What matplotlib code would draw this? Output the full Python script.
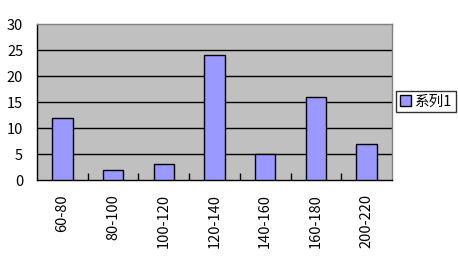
import matplotlib
matplotlib.use("Agg")
import matplotlib.pyplot as plt
from matplotlib.patches import Patch

plt.rcParams['font.family'] = ['Noto Sans CJK SC', 'DejaVu Sans']

categories = ["60-80", "80-100", "100-120", "120-140", "140-160", "160-180", "200-220"]
values = [12, 2, 3, 24, 5, 16, 7]
series_name = "系列1"
yticks = [0, 5, 10, 15, 20, 25, 30]

fig = plt.figure(figsize=(4.58, 2.57), dpi=100)
fig.patch.set_facecolor("white")
ax = fig.add_axes([37/458, 1-180/257, (392-37)/458, (180-24)/257])
ax.set_facecolor("#C0C0C0")

x = list(range(len(categories)))
ax.bar(x, values, width=0.4, color="#9999FF", edgecolor="black", linewidth=1, zorder=3)

ax.set_xlim(-0.5, len(categories) - 0.5)
ax.set_ylim(0, 30)
ax.set_yticks(yticks)
ax.set_yticklabels([str(v) for v in yticks], fontsize=10.5)
for v in yticks[1:-1]:
    ax.axhline(v, color="black", linewidth=1, zorder=1)

ax.set_xticks(x)
ax.set_xticklabels(categories, rotation=90, fontsize=10.5)
ax.tick_params(axis='x', length=0, pad=10)
ax.tick_params(axis='y', length=0, pad=10)
# category boundary ticks pointing inward
ax.set_xticks([i + 0.5 for i in range(len(categories) - 1)], minor=True)
ax.tick_params(axis='x', which='minor', direction='in', length=5, width=1, color='black')

for s in ['left', 'bottom']:
    ax.spines[s].set_color('black')
    ax.spines[s].set_linewidth(1)
for s in ['top', 'right']:
    ax.spines[s].set_color('#808080')
    ax.spines[s].set_linewidth(1)

handle = Patch(facecolor="#9999FF", edgecolor="black", label=series_name)
leg = fig.legend(handles=[handle], loc='upper left',
                 bbox_to_anchor=(396/458, 1-91/257), fontsize=10.5,
                 frameon=True, fancybox=False, handlelength=0.8, handleheight=0.8,
                 handletextpad=0.25, borderpad=0.25, borderaxespad=0)
leg.get_frame().set_edgecolor("black")
leg.get_frame().set_linewidth(1)

fig.savefig("out.png", dpi=100)
